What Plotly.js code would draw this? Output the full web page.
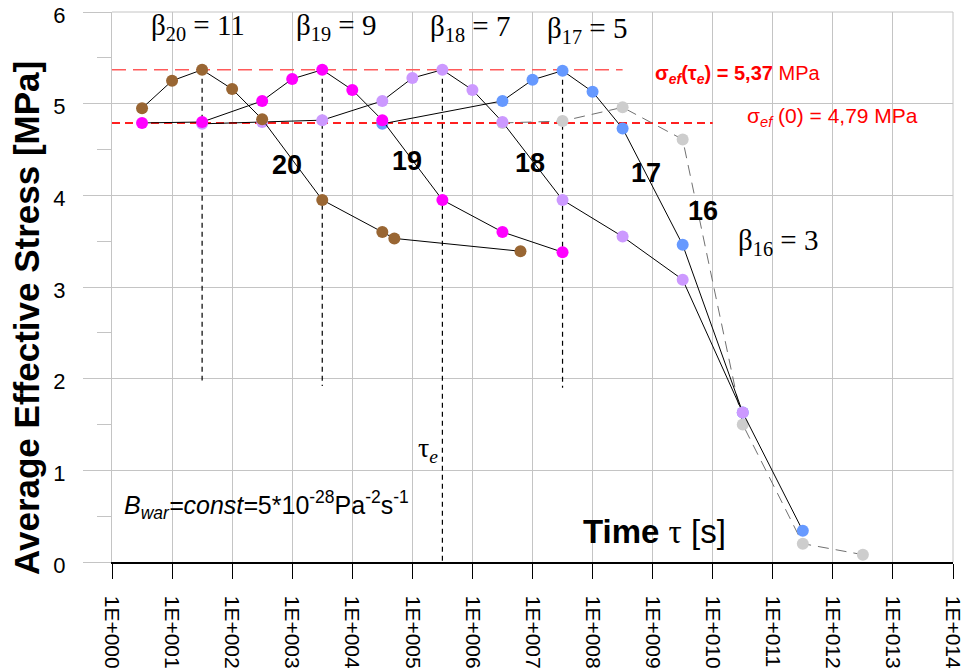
<!DOCTYPE html>
<html>
<head>
<meta charset="utf-8">
<script src="https://cdn.plot.ly/plotly-3.0.1.min.js"></script>
<style>html,body{margin:0;padding:0;background:#fff;}#chart{width:965px;height:668px;}</style>
</head>
<body>
<div id="chart"></div>
<script>
// Time values as decimal exponents (tau = 10^exp seconds), stress in MPa
const exp20 = [0.5, 1, 1.5, 2, 2.5, 3.5, 4.5, 4.7, 6.8];
const sig20 = [4.95, 5.25, 5.37, 5.16, 4.83, 3.95, 3.60, 3.53, 3.39];
const exp19 = [0.5, 1.5, 2.5, 3, 3.5, 4, 4.5, 5.5, 6.5, 7.5];
const sig19 = [4.79, 4.80, 5.03, 5.27, 5.37, 5.15, 4.82, 3.95, 3.60, 3.38];
const exp18 = [1.5, 2.5, 3.5, 4.5, 5, 5.5, 6, 6.5, 7.5, 8.5, 9.5, 10.5];
const sig18 = [4.78, 4.80, 4.82, 5.03, 5.28, 5.37, 5.15, 4.80, 3.95, 3.55, 3.08, 1.63];
const exp17 = [4.5, 6.5, 7, 7.5, 8, 8.5, 9.5, 10.5, 11.5];
const sig17 = [4.78, 5.03, 5.26, 5.36, 5.13, 4.73, 3.46, 1.63, 0.34];
const exp16 = [6.5, 7.5, 8.5, 9.5, 10.5, 11.5, 12.5];
const sig16 = [4.79, 4.81, 4.96, 4.61, 1.50, 0.20, 0.08];

// reference levels
const sigMax = 5.37, sigZero = 4.79;
const maxLineExp = [0, 8.5];
const zeroLineExp = [0, 10];
// vertical dashed markers at the peaks
const peakExp = [1.5, 3.5, 5.5, 7.5];
const peakTop = [5.37, 5.37, 5.37, 5.36];
const peakBottom = [1.98, 1.92, 0, 1.90];

const tickExp = [0,1,2,3,4,5,6,7,8,9,10,11,12,13,14];
const tickText = ["1E+000","1E+001","1E+002","1E+003","1E+004","1E+005","1E+006","1E+007","1E+008","1E+009","1E+010","1E+011","1E+012","1E+013","1E+014"];
const yTickVals = [0, 1, 2, 3, 4, 5, 6];
const yTickText = ["0", "1", "2", "3", "4", "5", "6"];

const p10 = a => a.map(e => Math.pow(10, e));
const SANS = "Liberation Sans, Arial, sans-serif";
const SERIF = "Liberation Serif, Times New Roman, serif";

function curve(ex, sg, color, name, dashed) {
  return {
    type: 'scatter', mode: 'lines+markers', name: name,
    x: p10(ex), y: sg,
    line: {color: dashed ? '#707070' : '#000000', width: 1, dash: dashed ? '11px,7px' : 'solid'},
    marker: {color: color, size: 12, line: {width: 0}},
    hoverinfo: 'x+y'
  };
}

// vertical dashed segments
const vx = [], vy = [];
for (let i = 0; i < peakExp.length; i++) {
  vx.push(Math.pow(10, peakExp[i]), Math.pow(10, peakExp[i]), null);
  vy.push(peakTop[i], peakBottom[i], null);
}

const traces = [
  {type:'scatter', mode:'lines', x: p10(maxLineExp), y:[sigMax, sigMax],
   line:{color:'#ff5a5a', width:1.5, dash:'14px,7px'}, hoverinfo:'skip'},
  {type:'scatter', mode:'lines', x: p10(zeroLineExp), y:[sigZero, sigZero],
   line:{color:'#ff2020', width:2, dash:'8px,5px'}, hoverinfo:'skip'},
  {type:'scatter', mode:'lines', x: vx, y: vy, connectgaps:false,
   line:{color:'#000000', width:1.2, dash:'5px,4px'}, hoverinfo:'skip'},
  curve(exp16, sig16, '#cdcdcd', '16', true),
  curve(exp17, sig17, '#6699ff', '17', false),
  curve(exp18, sig18, '#cc99ff', '18', false),
  curve(exp19, sig19, '#ff00ff', '19', false),
  curve(exp20, sig20, '#996633', '20', false)
];

const ann = (x, y, text, size, font, color, extra) => Object.assign({
  xref:'paper', yref:'paper', x: x, y: y, text: text, showarrow:false,
  xanchor:'center', yanchor:'middle',
  font:{family: font, size: size, color: color || '#000'}
}, extra || {});

// paper coords helpers: plot area x 112..953, y 12..562
const px = v => (v - 112) / (953 - 112);
const py = v => (562 - v) / (562 - 12);

const annotations = [
  ann(px(198), py(27), 'β<sub>20</sub> = 11', 29, SERIF),
  ann(px(336), py(27), 'β<sub>19</sub> = 9', 29, SERIF),
  ann(px(470), py(28), 'β<sub>18</sub> = 7', 29, SERIF),
  ann(px(587), py(30), 'β<sub>17</sub> = 5', 29, SERIF),
  ann(px(778), py(242), 'β<sub>16</sub> = 3', 29, SERIF),
  ann(px(287), py(165), '<b>20</b>', 27, SANS),
  ann(px(407), py(161), '<b>19</b>', 27, SANS),
  ann(px(530), py(163), '<b>18</b>', 27, SANS),
  ann(px(646), py(173), '<b>17</b>', 27, SANS),
  ann(px(703), py(211), '<b>16</b>', 27, SANS),
  ann(px(737), py(75), '<b>σ<sub><i>ef</i></sub>(τ<sub><i>e</i></sub>) = 5,37</b> MPa', 20, SANS, '#ff0000'),
  ann(px(832), py(117), 'σ<sub><i>ef</i></sub> (0) = 4,79 MPa', 21, SANS, '#ff0000'),
  ann(px(428), py(449), 'τ<sub><i>e</i></sub>', 28, SERIF),
  ann(px(266), py(505), '<i>B</i><sub><i>war</i></sub><i>=const=</i>5*10<sup>-28</sup>Pa<sup>-2</sup>s<sup>-1</sup>', 25, SANS),
  ann(px(654), py(531), '<b>Time</b> <span style="font-family:Liberation Serif, Times New Roman, serif">τ</span> [s]', 33, SANS),
  ann(px(26), py(318), '<b>Average Effective Stress [MPa]</b>', 35, SANS, '#000', {textangle: -90})
];

const layout = {
  width: 965, height: 668,
  margin: {l: 112, r: 12, t: 12, b: 106, pad: 0},
  paper_bgcolor: '#ffffff', plot_bgcolor: '#ffffff',
  showlegend: false,
  xaxis: {
    type: 'log', range: [0, 14],
    tickvals: p10(tickExp), ticktext: tickText, tickangle: 90,
    tickfont: {family: SANS, size: 21, color: '#000'},
    ticklabeloverflow: 'allow',
    ticks: 'outside', ticklen: 15, tickcolor: '#000', tickwidth: 1,
    ticklabelstandoff: 13,
    showgrid: true, gridcolor: '#c4c4c4', gridwidth: 1,
    showline: true, linecolor: '#000', linewidth: 1.5,
    zeroline: false
  },
  yaxis: {
    range: [0, 6],
    tickvals: yTickVals, ticktext: yTickText,
    tickfont: {family: SANS, size: 22, color: '#000'},
    ticklabeloverflow: 'allow',
    ticklabelshift: 3,
    ticks: 'outside', ticklen: 28, tickcolor: '#c4c4c4', tickwidth: 1,
    ticklabelstandoff: 13,
    minor: {dtick: 0.5, tick0: 0, ticks: 'outside', ticklen: 14, tickcolor: '#c4c4c4', showgrid: false},
    showgrid: true, gridcolor: '#c4c4c4', gridwidth: 1,
    showline: true, linecolor: '#c4c4c4', linewidth: 1,
    zeroline: false
  },
  shapes: [
    {type:'line', xref:'paper', yref:'paper', x0:0, x1:1, y0:1, y1:1, line:{color:'#c4c4c4', width:1}},
    {type:'line', xref:'paper', yref:'paper', x0:1, x1:1, y0:0, y1:1, line:{color:'#c4c4c4', width:1}}
  ],
  annotations: annotations
};

Plotly.newPlot('chart', traces, layout, {displayModeBar: false, staticPlot: true});
</script>
</body>
</html>
